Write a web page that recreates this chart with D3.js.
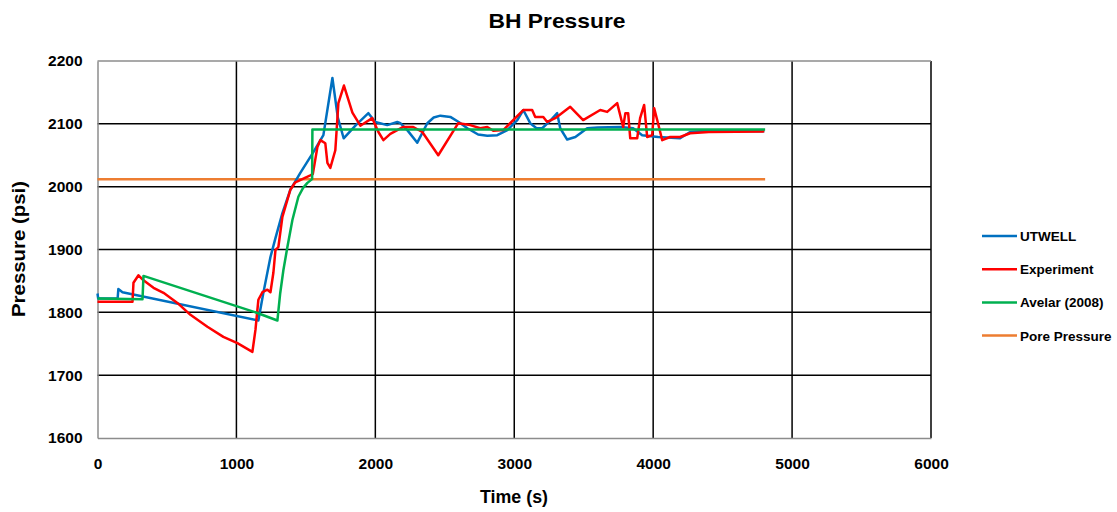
<!DOCTYPE html>
<html>
<head>
<meta charset="utf-8">
<script src="https://cdn.jsdelivr.net/npm/d3@7"></script>
<style>
  body { margin: 0; background: #fff; }
  svg { display: block; }
  text { font-family: "Liberation Sans", Arial, sans-serif; font-weight: bold; fill: #000; }
</style>
</head>
<body>
<svg id="chart" width="1117" height="512"></svg>
<script>
// ---- Data ----
const xTicks = [0, 1000, 2000, 3000, 4000, 5000, 6000];
const yTicks = [1600, 1700, 1800, 1900, 2000, 2100, 2200];
const seriesNames = ["UTWELL", "Experiment", "Avelar (2008)", "Pore Pressure"];

const utwell = [[0,1830],[5,1822],[145,1822],[150,1837],[180,1832],[1158,1787],[1194,1831],[1245,1888],[1281,1918],[1331,1958],[1388,1995],[1460,2022],[1554,2055],[1626,2082],[1691,2173],[1730,2110],[1772,2077],[1860,2098],[1950,2117],[2000,2103],[2086,2098],[2158,2103],[2180,2101],[2230,2090],[2302,2070],[2374,2101],[2420,2110],[2468,2113],[2540,2111],[2600,2103],[2662,2093],[2740,2083],[2806,2081],[2878,2082],[2950,2090],[3022,2106],[3065,2122],[3115,2101],[3160,2093],[3201,2093],[3260,2105],[3309,2117],[3331,2093],[3381,2075],[3440,2079],[3525,2093],[3600,2094],[3763,2095],[3856,2093],[3921,2082],[4036,2079],[4194,2077],[4266,2087],[4400,2089],[4800,2088]];

const experiment = [[0,1817],[252,1817],[259,1847],[295,1859],[331,1851],[403,1839],[475,1831],[575,1815],[669,1796],[791,1777],[906,1761],[1007,1751],[1115,1737],[1137,1772],[1158,1820],[1187,1832],[1223,1836],[1245,1832],[1266,1863],[1281,1899],[1302,1904],[1331,1952],[1388,1995],[1424,2007],[1532,2018],[1550,2020],[1583,2063],[1604,2074],[1640,2069],[1655,2038],[1676,2030],[1712,2058],[1734,2133],[1774,2161],[1835,2118],[1892,2097],[1978,2109],[2022,2087],[2058,2074],[2108,2084],[2158,2090],[2201,2095],[2273,2095],[2338,2087],[2453,2050],[2597,2101],[2683,2098],[2755,2093],[2806,2095],[2849,2089],[2921,2090],[3043,2117],[3065,2122],[3129,2122],[3151,2111],[3209,2111],[3237,2103],[3295,2109],[3403,2127],[3496,2106],[3619,2122],[3669,2119],[3741,2133],[3784,2095],[3800,2117],[3820,2117],[3835,2077],[3885,2077],[3906,2109],[3935,2130],[3957,2079],[3993,2082],[4007,2125],[4029,2106],[4065,2074],[4122,2079],[4194,2079],[4266,2085],[4400,2087],[4800,2088]];

const avelar = [[0,1822],[324,1821],[331,1858],[1151,1799],[1295,1787],[1315,1830],[1338,1867],[1367,1904],[1403,1947],[1446,1984],[1480,1998],[1511,2006],[1545,2012],[1547,2091],[4806,2091]];

const porePressure = [[0,2012],[4806,2012]];

const seriesColors = ["#0070C0", "#FF0000", "#00B050", "#ED7D31"];

// ---- Layout ----
const svg = d3.select("#chart");
const margin = { left: 97.5, right: 1117 - 931, top: 61, bottom: 512 - 438 };
const W = 1117, H = 512;

const x = d3.scaleLinear().domain([0, 6000]).range([margin.left, W - margin.right]);
const y = d3.scaleLinear().domain([1600, 2200]).range([H - margin.bottom, margin.top]);

// Grid lines
const grid = svg.append("g");
grid.selectAll(".vg").data(xTicks.slice(1)).enter().append("line")
  .attr("x1", d => x(d)).attr("x2", d => x(d))
  .attr("y1", y(2200)).attr("y2", y(1600))
  .attr("stroke", "#000").attr("stroke-width", 1.5);
grid.selectAll(".hg").data(yTicks.slice(1, -1)).enter().append("line")
  .attr("x1", x(0)).attr("x2", x(6000))
  .attr("y1", d => y(d)).attr("y2", d => y(d))
  .attr("stroke", "#000").attr("stroke-width", 1.5);
svg.append("line").attr("x1", x(0)).attr("x2", x(6000)).attr("y1", y(2200)).attr("y2", y(2200))
  .attr("stroke", "#8c8c8c").attr("stroke-width", 1.5);

// Axes
const xAxis = d3.axisBottom(x).tickValues(xTicks).tickSize(0).tickPadding(20).tickFormat(d3.format("d"));
const yAxis = d3.axisLeft(y).tickValues(yTicks).tickSize(0).tickPadding(15).tickFormat(d3.format("d"));

const gx = svg.append("g").attr("transform", `translate(0,${y(1600)})`).call(xAxis);
gx.select(".domain").attr("stroke", "#8c8c8c").attr("stroke-width", 1.5);
gx.selectAll("text").style("font-size", "15.5px").style("font-weight", "bold").attr("fill", "#000");

const gy = svg.append("g").attr("transform", `translate(${x(0)},0)`).call(yAxis);
gy.select(".domain").attr("stroke", "#8c8c8c").attr("stroke-width", 1.5);
gy.selectAll("text").style("font-size", "15.5px").style("font-weight", "bold").attr("fill", "#000");

// Lines
const line = d3.line().x(d => x(d[0])).y(d => y(d[1]));
const allSeries = [utwell, experiment, avelar, porePressure];
const drawOrder = [3, 0, 1, 2];
drawOrder.forEach(i => {
  svg.append("path").datum(allSeries[i])
    .attr("d", line)
    .attr("fill", "none")
    .attr("stroke", seriesColors[i])
    .attr("stroke-width", 2.5)
    .attr("stroke-linejoin", "round");
});

// Title & axis labels
svg.append("text").attr("x", 557).attr("y", 28).attr("text-anchor", "middle")
  .style("font-size", "21px").attr("textLength", 137).attr("lengthAdjust", "spacingAndGlyphs")
  .text("BH Pressure");
svg.append("text").attr("x", 514).attr("y", 503).attr("text-anchor", "middle")
  .style("font-size", "17.5px").attr("textLength", 68).attr("lengthAdjust", "spacingAndGlyphs")
  .text("Time (s)");
svg.append("text").attr("transform", "translate(25,249) rotate(-90)").attr("text-anchor", "middle")
  .style("font-size", "17.5px").attr("textLength", 136).attr("lengthAdjust", "spacingAndGlyphs")
  .text("Pressure (psi)");

// Legend
const legend = svg.append("g");
seriesNames.forEach((name, i) => {
  const ly = 236 + i * 33.2;
  legend.append("line").attr("x1", 982).attr("x2", 1017).attr("y1", ly).attr("y2", ly)
    .attr("stroke", seriesColors[i]).attr("stroke-width", 2.5);
  legend.append("text").attr("x", 1020).attr("y", ly + 5)
    .style("font-size", "13.5px").text(name);
});
</script>
</body>
</html>
